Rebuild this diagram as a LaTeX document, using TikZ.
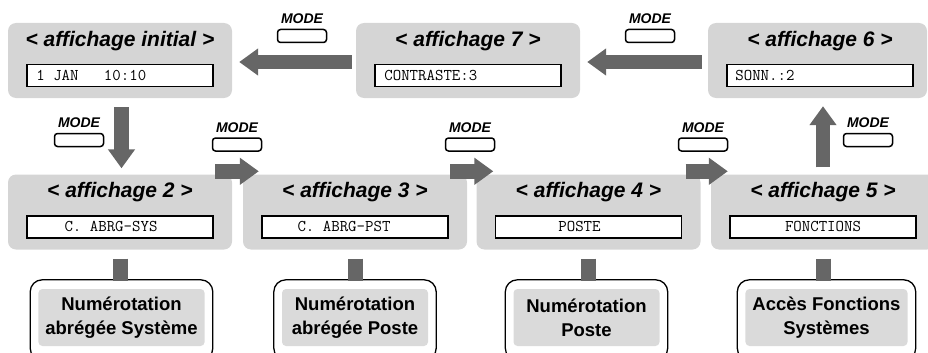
\documentclass[tikz,border=0pt]{standalone}
\usepackage{fontspec}
\setmainfont{Liberation Sans}
\usetikzlibrary{arrows.meta,calc,fit}
\definecolor{boxgray}{RGB}{213,213,213}
\definecolor{lblgray}{RGB}{218,218,218}
\definecolor{arrowgray}{RGB}{102,102,102}
\tikzset{
  dispbox/.style={rectangle, rounded corners=8pt, fill=boxgray, minimum width=224pt, minimum height=75pt, inner sep=0pt},
  disptitle/.style={font=\fontsize{21}{24}\selectfont\bfseries\itshape, inner sep=0pt},
  lcd/.style={rectangle, draw=black, line width=1.6pt, fill=white, minimum width=186pt, minimum height=22pt, inner sep=0pt},
  lcdtext/.style={font=\fontsize{16.4}{18}\selectfont\ttfamily, inner sep=0pt},
  bigarrow/.style={draw=arrowgray, line width=14.5pt, -{Triangle[width=26pt,length=19pt]}},
  conn/.style={draw=arrowgray, line width=15pt},
  modebtn/.style={rectangle, draw=black, line width=1.5pt, rounded corners=3pt, minimum width=49pt, minimum height=13pt, inner sep=0pt},
  modelbl/.style={font=\fontsize{14}{16}\selectfont\bfseries\itshape, inner sep=0pt},
  lbl/.style={rectangle, fill=lblgray, rounded corners=4pt, minimum width=146pt, minimum height=57pt, inner xsep=7pt, inner ysep=0pt, align=center, font=\fontsize{18.5}{24}\selectfont\bfseries},
  outl/.style={rectangle, draw=black, line width=1.3pt, rounded corners=12pt, inner sep=0pt}
}
\begin{document}
\begin{tikzpicture}[x=1pt,y=-1pt]
\useasboundingbox (0,0) rectangle (928,353);
% top row
\node[dispbox] (ai) at (120,60.5) {};
\node[dispbox] (a7) at (468,60.5) {};
\node[dispbox, minimum width=219pt] (a6) at (817.5,60.5) {};
% bottom row
\node[dispbox] (a2) at (120,212) {};
\node[dispbox] (a3) at (355,212) {};
\node[dispbox] (a4) at (588.5,212) {};
\node[dispbox] (a5) at (823,212) {};
% titles and displays
\foreach \b/\t/\dx in {ai/initial/0, a7/7/0, a6/6/2.5, a2/2/0, a3/3/0, a4/4/0, a5/5/0}{
  \node[disptitle] (t\b) at ([xshift=\dx pt,yshift=-18pt]\b.north) {< affichage \t{} >};
  \node[lcd] (l\b) at ([xshift=\dx pt,yshift=-52.5pt]\b.north) {};
}
% lcd texts
\node[lcdtext, anchor=west] (xai) at ([xshift=10pt]lai.west) {1 JAN\ \ \ 10:10};
\node[lcdtext, anchor=west] (xa7) at ([xshift=10pt]la7.west) {CONTRASTE:3};
\node[lcdtext, anchor=west] (xa6) at ([xshift=9pt]la6.west) {SONN.:2};
\node[lcdtext] (xa2) at ([xshift=-9pt]la2.center) {C. ABRG-SYS};
\node[lcdtext] (xa3) at ([xshift=-11pt]la3.center) {C. ABRG-PST};
\node[lcdtext] (xa4) at ([xshift=-9pt]la4.center) {POSTE};
\node[lcdtext] (xa5) at (la5.center) {FONCTIONS};
% arrows between displays
\draw[bigarrow] ([xshift=-4pt,yshift=-1.5pt]a7.west) -- ([xshift=7pt,yshift=-1.5pt]ai.east);
\draw[bigarrow] ([xshift=-6pt,yshift=-1.5pt]a6.west) -- ([xshift=7pt,yshift=-1.5pt]a7.east);
\draw[bigarrow] ([xshift=1.5pt,yshift=-9pt]ai.south) -- ([xshift=1.5pt,yshift=6pt]a2.north);
\draw[bigarrow] ([yshift=7pt]a5.north) -- ([yshift=-8pt]a5.north |- a6.south);
\draw[bigarrow] ([xshift=-17pt,yshift=3pt]a2.north east) -- ([xshift=16pt,yshift=3pt]a3.north west);
\draw[bigarrow] ([xshift=-17pt,yshift=3pt]a3.north east) -- ([xshift=17pt,yshift=3pt]a4.north west);
\draw[bigarrow] ([xshift=-15pt,yshift=3pt]a4.north east) -- ([xshift=17pt,yshift=3pt]a5.north west);
% MODE buttons
\node[modebtn] (m1) at (302,36) {};
\node[modelbl] (m1t) at ([yshift=17.5pt]m1.center) {MODE};
\node[modebtn] (m2) at (650,36) {};
\node[modelbl] (m2t) at ([yshift=17.5pt]m2.center) {MODE};
\node[modebtn] (m3) at (79,140) {};
\node[modelbl] (m3t) at ([yshift=17.5pt]m3.center) {MODE};
\node[modebtn] (m4) at (237,144.5) {};
\node[modelbl] (m4t) at ([yshift=17pt]m4.center) {MODE};
\node[modebtn] (m5) at (470,144.5) {};
\node[modelbl] (m5t) at ([yshift=17pt]m5.center) {MODE};
\node[modebtn] (m6) at (703,144.5) {};
\node[modelbl] (m6t) at ([yshift=17pt]m6.center) {MODE};
\node[modebtn] (m7) at (868,140) {};
\node[modelbl] (m7t) at ([yshift=17.5pt]m7.center) {MODE};
% bottom labels
\node[lbl] (b2) at (121.5,317.5) {Numérotation\\abrégée Système};
\node[lbl] (b3) at (355,317.5) {Numérotation\\abrégée Poste};
\node[lbl] (b4) at (586.5,317.5) {Numérotation\\Poste};
\node[lbl] (b5) at (826.5,317.5) {Accès Fonctions\\Systèmes};
\foreach \n/\a in {2/a2, 3/a3, 4/a4, 5/a5}{
  \node[outl, fit={($(b\n.north west)+(-8,-9)$) ($(b\n.south east)+(8,14)$)}] (o\n) {};
  \draw[conn] ([yshift=-9pt]\a.south) -- ([yshift=-2pt]\a.south |- o\n.north);
}
\end{tikzpicture}
\end{document}
